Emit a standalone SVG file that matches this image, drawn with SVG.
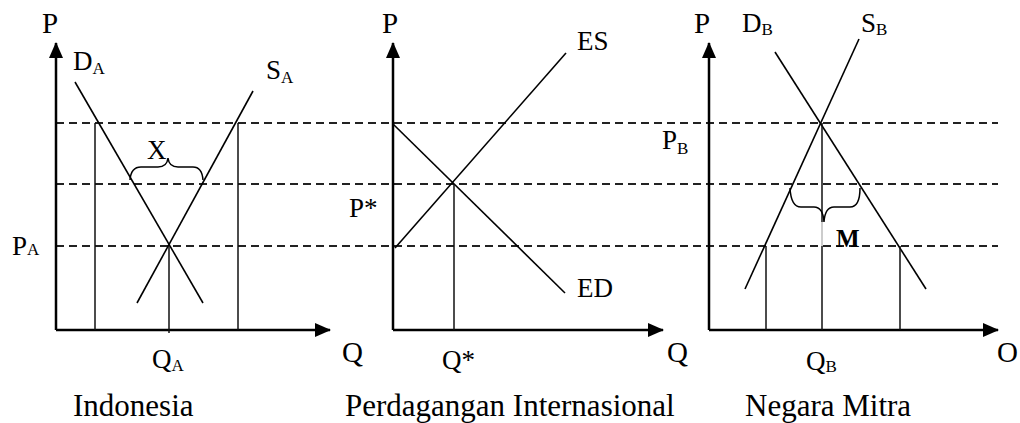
<svg xmlns="http://www.w3.org/2000/svg" width="1020" height="423" viewBox="0 0 1020 423" font-family="'Liberation Serif', 'Times New Roman', 'DejaVu Serif', serif">
<style>
text{font-family:'Liberation Serif','Times New Roman','DejaVu Serif',serif;fill:#000}
.lbl{font-size:27px}
.ax{font-size:29px}
.ttl{font-size:31px}
.sub{font-size:17px}
.axis{stroke:#000;stroke-width:2.5;fill:none}
.crv{stroke:#000;stroke-width:1.6;fill:none}
.vl{stroke:#111;stroke-width:1.5;fill:none}
.dash{stroke:#222;stroke-width:1.8;stroke-dasharray:8 5;fill:none}
.br{stroke:#000;stroke-width:1.5;fill:none}
</style>
<defs>
<marker id="arr" viewBox="0 0 16 16" refX="15" refY="8" markerWidth="16" markerHeight="16" markerUnits="userSpaceOnUse" orient="auto">
<path d="M0,1 L16,8 L0,15 z" fill="#000"/>
</marker>
</defs>
<g id="connectors">
<line class="dash" x1="56" y1="123" x2="998" y2="123"/>
<line class="dash" x1="56" y1="184" x2="998" y2="184"/>
<line class="dash" x1="56" y1="246" x2="998" y2="246"/>
<line class="axis" x1="56" y1="330" x2="56" y2="43" marker-end="url(#arr)"/>
<line class="axis" x1="56" y1="330" x2="330" y2="330" marker-end="url(#arr)"/>
<line class="axis" x1="393" y1="330" x2="393" y2="43" marker-end="url(#arr)"/>
<line class="axis" x1="393" y1="330" x2="663" y2="330" marker-end="url(#arr)"/>
<line class="axis" x1="709" y1="330" x2="709" y2="43" marker-end="url(#arr)"/>
<line class="axis" x1="709" y1="330" x2="998" y2="330" marker-end="url(#arr)"/>
</g>
<g id="indonesia">
<line class="crv" x1="75" y1="82" x2="203" y2="303"/>
<line class="crv" x1="253" y1="91" x2="137" y2="303"/>
<line class="vl" x1="95" y1="123" x2="95" y2="330"/>
<line class="vl" x1="169" y1="246" x2="169" y2="333"/>
<line class="vl" x1="238" y1="123" x2="238" y2="330"/>
<path class="br" d="M130,180 Q131,167 141,167 L158,167 Q167,167 168,158 Q169,167 178,167 L193,167 Q202,167 203,180"/>
<text class="ax" x="42" y="33">P</text>
<text class="lbl" x="73" y="70">D<tspan class="sub" dy="4">A</tspan></text>
<text class="lbl" x="266" y="79">S<tspan class="sub" dy="4">A</tspan></text>
<text class="lbl" x="147" y="159">X</text>
<text class="lbl" x="12" y="255">P<tspan class="sub" dy="0">A</tspan></text>
<text class="lbl" x="152" y="368">Q<tspan class="sub" dy="3">A</tspan></text>
<text class="ax" x="342" y="362">Q</text>
<text class="ttl" x="73" y="416">Indonesia</text>
</g>
<g id="perdagangan">
<line class="crv" x1="395" y1="248" x2="566" y2="53"/>
<line class="crv" x1="393" y1="124" x2="565" y2="293"/>
<line class="vl" x1="454" y1="184" x2="454" y2="330"/>
<text class="ax" x="382" y="33">P</text>
<text class="lbl" x="577" y="50">ES</text>
<text class="lbl" x="577" y="297">ED</text>
<text class="lbl" x="349" y="217">P*</text>
<text class="lbl" x="442" y="369">Q*</text>
<text class="ax" x="667" y="362">Q</text>
<text class="ttl" x="345" y="416">Perdagangan Internasional</text>
</g>
<g id="negara-mitra">
<line class="crv" x1="775" y1="52" x2="926" y2="289"/>
<line class="crv" x1="859" y1="39" x2="745" y2="289"/>
<line class="vl" x1="822" y1="123" x2="822" y2="222"/>
<line x1="822" y1="222" x2="822" y2="246" stroke="#aaa" stroke-width="1.2"/>
<line class="vl" x1="822" y1="246" x2="822" y2="330"/>
<line class="vl" x1="766" y1="246" x2="766" y2="330"/>
<line class="vl" x1="900" y1="246" x2="900" y2="330"/>
<path class="br" d="M790,188 Q791,207 801,207 L814,207 Q823,207 824,222 Q825,207 834,207 L850,207 Q860,207 860,188"/>
<text x="836" y="247" style="font-size:25px;font-weight:bold">M</text>
<text class="ax" x="694" y="33">P</text>
<text class="lbl" x="742" y="32">D<tspan class="sub" dy="3">B</tspan></text>
<text class="lbl" x="861" y="32">S<tspan class="sub" dy="3">B</tspan></text>
<text class="lbl" x="662" y="149">P<tspan class="sub" dy="5">B</tspan></text>
<text class="lbl" x="806" y="370">Q<tspan class="sub" dy="2">B</tspan></text>
<text class="ax" x="997" y="362">O</text>
<text class="ttl" x="745" y="416">Negara Mitra</text>
</g>
</svg>
